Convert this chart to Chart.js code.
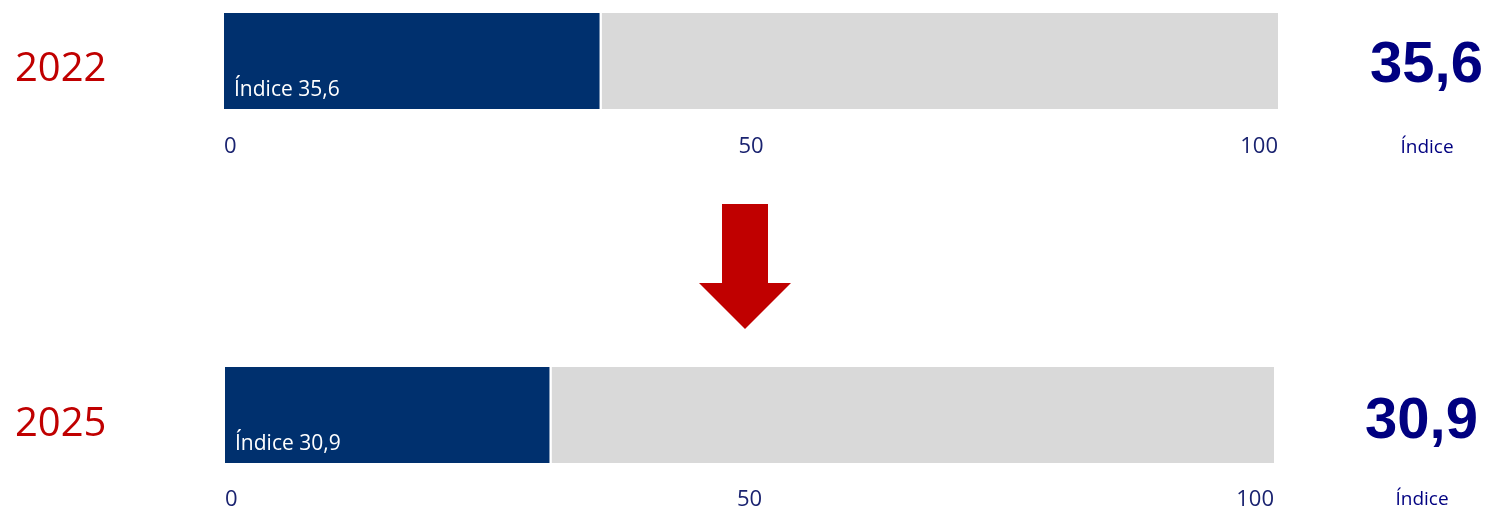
<!DOCTYPE html>
<html>
<head>
<meta charset="utf-8">
<script src="https://cdn.jsdelivr.net/npm/chart.js@4"></script>
<style>
  body { margin: 0; background: #fff; width: 1488px; height: 509px; position: relative; overflow: hidden; }
  .box { position: absolute; }
  .year { position: absolute; left: 15px; width: 100px; font-family: "Open Sans", sans-serif; font-size: 40px; color: #C00000; height: 60px; line-height: 60px; }
  .big { position: absolute; font-family: "Liberation Sans", Arial, sans-serif; font-weight: bold; font-size: 58px; color: #000080; text-align: right; width: 200px; height: 70px; line-height: 70px; }
  .unit { position: absolute; font-family: "Open Sans", sans-serif; font-size: 19px; color: #000080; text-align: center; width: 100px; height: 24px; line-height: 24px; }
</style>
</head>
<body>
<div class="box" style="left:0;top:0;width:1488px;height:158px"><canvas id="c1"></canvas></div>
<div class="box" style="left:0;top:354px;width:1488px;height:155px"><canvas id="c2"></canvas></div>

<div class="year" id="y1" style="top:36px"></div>
<div class="year" id="y2" style="top:391px"></div>
<div class="big" id="b1" style="left:1283px;top:27px"></div>
<div class="big" id="b2" style="left:1278px;top:383px"></div>
<div class="unit" style="left:1377px;top:134px">Índice</div>
<div class="unit" style="left:1372px;top:486px">Índice</div>

<svg class="box" style="left:0;top:0" width="1488" height="509">
  <polygon points="722,204 768,204 768,283 791,283 745,329 699,283 722,283" fill="#C00000"/>
</svg>

<script>
const years = ['2022', '2025'];
const indexValues = [35.6, 30.9];
const scaleMax = 100;
const tickValues = [0, 50, 100];

const fmt = v => v.toFixed(1).replace('.', ',');

document.getElementById('y1').textContent = years[0];
document.getElementById('y2').textContent = years[1];
document.getElementById('b1').textContent = fmt(indexValues[0]);
document.getElementById('b2').textContent = fmt(indexValues[1]);

const insideLabel = {
  id: 'insideLabel',
  afterDatasetsDraw(chart) {
    const bar = chart.getDatasetMeta(0).data[0];
    const ctx = chart.ctx;
    ctx.save();
    ctx.fillStyle = '#ffffff';
    ctx.font = '21px "Open Sans", sans-serif';
    ctx.textBaseline = 'alphabetic';
    ctx.textAlign = 'left';
    ctx.fillText('Índice ' + fmt(chart.data.datasets[0].data[0]), bar.base + 10, bar.y + bar.height / 2 - 13);
    ctx.restore();
  }
};

// axisH keeps the bar at a fixed 96px height
function makeChart(id, i, pad, tickPad, axisH) {
  new Chart(document.getElementById(id), {
    type: 'bar',
    data: {
      labels: [years[i]],
      datasets: [
        { data: [indexValues[i]], backgroundColor: '#00306E', borderWidth: 0 },
        { data: [scaleMax - indexValues[i]], backgroundColor: '#D9D9D9', borderColor: '#ffffff',
          borderWidth: { left: 3, top: 0, right: 0, bottom: 0 }, borderSkipped: false }
      ]
    },
    options: {
      indexAxis: 'y',
      responsive: true,
      maintainAspectRatio: false,
      animation: false,
      layout: { padding: pad },
      datasets: { bar: { categoryPercentage: 1, barPercentage: 1 } },
      plugins: { legend: { display: false }, tooltip: { enabled: false } },
      scales: {
        y: { stacked: true, display: false },
        x: {
          stacked: true, min: 0, max: scaleMax,
          grid: { display: false }, border: { display: false },
          afterBuildTicks: s => { s.ticks = tickValues.map(v => ({ value: v })); },
          afterFit: s => { s.height = axisH; },
          ticks: { align: 'inner', padding: tickPad, color: '#1A2370',
            font: { family: '"Open Sans", sans-serif', size: 22 } }
        }
      }
    },
    plugins: [insideLabel]
  });
}

makeChart('c1', 0, { left: 224, right: 210, top: 13, bottom: 0 }, 17, 49);
makeChart('c2', 1, { left: 225, right: 214, top: 13, bottom: 0 }, 16, 46);
</script>
</body>
</html>
